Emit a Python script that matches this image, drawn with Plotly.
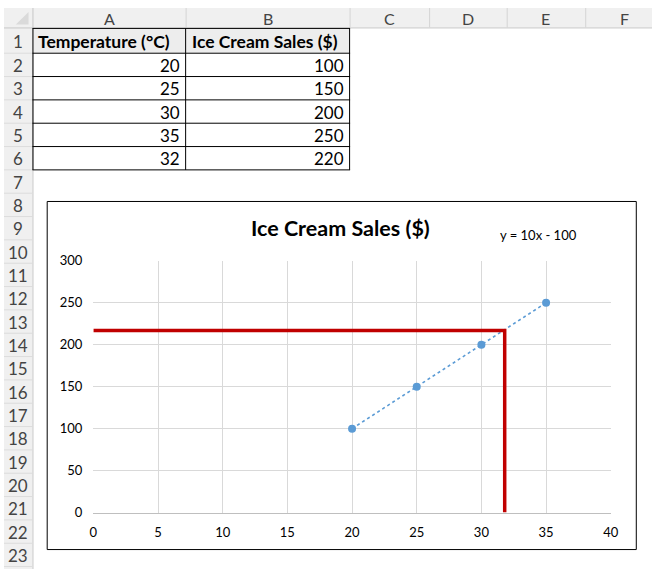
import plotly.graph_objects as go

# worksheet values
temps = [20, 25, 30, 35, 32]
sales = [100, 150, 200, 250, 220]
col_names = ["A", "B", "C", "D", "E", "F"]
header_a = "Temperature (°C)"
header_b = "Ice Cream Sales ($)"

# chart series (first four rows are plotted)
chart_x = temps[:4]
chart_y = sales[:4]
trend_x = [20, 35]
trend_y = [100, 250]
trend_label = "y = 10x - 100"
guide_x = [0, 31.8, 31.8]
guide_y = [217, 217, 0]
chart_title = "Ice Cream Sales ($)"

W, H = 660, 577
FONT = "Lato"

def fx(p):
	return p / W

def fy(p):
	return 1 - p / H

def line(x0, y0, x1, y1, color, width=1):
	return dict(type="line", xref="paper", yref="paper", x0=fx(x0), y0=fy(y0), x1=fx(x1), y1=fy(y1),
		line=dict(color=color, width=width), layer="below")

def rect(x0, y0, x1, y1, fill, color=None, width=0):
	return dict(type="rect", xref="paper", yref="paper", x0=fx(x0), y0=fy(y0), x1=fx(x1), y1=fy(y1),
		fillcolor=fill, line=dict(color=color or fill, width=width), layer="below")

def text(s, x, y, size=17, color="#000", bold=False, xanchor="center"):
	if bold:
		s = "<b>" + s + "</b>"
	return dict(text=s, x=fx(x), y=fy(y), xref="paper", yref="paper", showarrow=False,
		xanchor=xanchor, yanchor="middle", font=dict(family=FONT, size=size, color=color))

col_edges = [29, 185, 352, 433, 512, 592, 672]
row_tops = [21] + [46 + 24 * k for k in range(23)]  # row 1 .. 23 (+bottom)

shapes = []
annotations = []

# headers
shapes.append(rect(0, 0, W, 20, "#F0F0F0"))
shapes.append(rect(0, 20, 29, H, "#F0F0F0"))
shapes.append(line(0, 20.5, W, 20.5, "#C6C6C6"))
shapes.append(line(29.5, 0, 29.5, H, "#C6C6C6"))
shapes.append(dict(type="path", xref="paper", yref="paper",
	path="M %f,%f L %f,%f L %f,%f Z" % (fx(25), fy(4), fx(25), fy(17), fx(12), fy(17)),
	fillcolor="#DADADA", line=dict(width=0), layer="below"))
for e in col_edges[1:-1]:
	shapes.append(line(e + 0.5, 0, e + 0.5, 20, "#D4D4D4"))
for i, c in enumerate(col_names):
	annotations.append(text(c, (col_edges[i] + col_edges[i + 1]) / 2, 11, size=16, color="#444"))
for r in range(1, 24):
	top, bot = row_tops[r - 1], row_tops[r]
	shapes.append(line(0, bot + 0.5, 29, bot + 0.5, "#DCDCDC"))
	annotations.append(text(str(r), 14.5, (top + bot) / 2 + 1, size=17, color="#444"))

# table
shapes.append(rect(30, 21, 352, 46, "#EDEDED"))
for k in range(7):
	y = row_tops[k] + 0.5 if k else 21
	shapes.append(line(29, y, 352.5, y, "#000"))
for x in [29.5, 185, 352]:
	shapes.append(line(x, 21, x, row_tops[6] + 0.5, "#000"))
annotations.append(text(header_a, 33, 34, size=17.5, bold=True, xanchor="left"))
annotations.append(text(header_b, 189, 34, size=17.5, bold=True, xanchor="left"))
for i in range(len(temps)):
	cy = (row_tops[i + 1] + row_tops[i + 2]) / 2 + 1
	annotations.append(text(str(temps[i]), 181, cy, xanchor="right"))
	annotations.append(text(str(sales[i]), 348, cy, xanchor="right"))

# chart frame
shapes.append(rect(44, 199, 644, 557, "white", "#000", 1))
annotations.append(text(chart_title, 343, 226, size=21.5, bold=True))
annotations.append(text(trend_label, 544, 233, size=13))

fig = go.Figure()
fig.add_trace(go.Scatter(x=trend_x, y=trend_y, mode="lines",
	line=dict(color="#5B9BD5", width=1.6, dash="dot"), hoverinfo="skip"))
fig.add_trace(go.Scatter(x=guide_x, y=guide_y, mode="lines",
	line=dict(color="#C00000", width=3.5)))
fig.add_trace(go.Scatter(x=chart_x, y=chart_y, mode="markers",
	marker=dict(color="#5B9BD5", size=8)))

fig.update_layout(
	width=W, height=H,
	margin=dict(l=0, r=0, t=0, b=0),
	paper_bgcolor="white", plot_bgcolor="rgba(0,0,0,0)",
	showlegend=False,
	shapes=shapes, annotations=annotations,
	font=dict(family=FONT, size=13, color="#000"),
	xaxis=dict(domain=[fx(91), fx(618)], range=[0, 40], dtick=5, showgrid=True,
		gridcolor="#D9D9D9", zeroline=False, showline=True, linecolor="#BFBFBF",
		ticks="", ticklabelstandoff=8, tickfont=dict(size=13, color="#000")),
	yaxis=dict(domain=[fy(519), fy(260)], range=[0, 300], dtick=50, showgrid=True,
		gridcolor="#D9D9D9", zeroline=False, showline=False,
		ticks="", ticklabelstandoff=10, tickfont=dict(size=13, color="#000")),
)

# the page body has a default 8px margin; drop it so the sheet starts at the corner
fig.write_html("out.html", config={"displayModeBar": False},
	post_script="document.body.style.margin='0';")
